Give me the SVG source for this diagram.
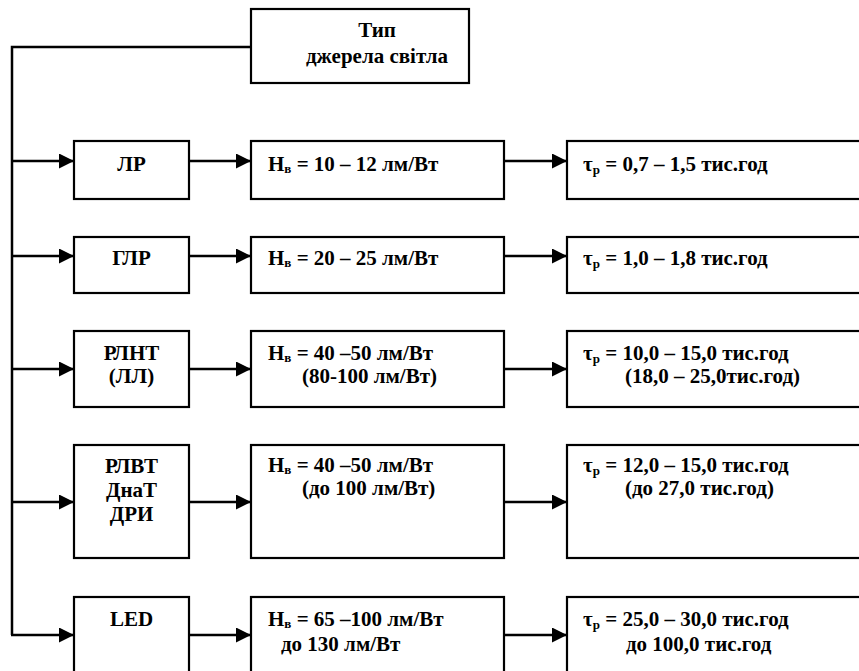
<svg xmlns="http://www.w3.org/2000/svg" width="859" height="671" viewBox="0 0 859 671">
<defs>
<marker id="arr" markerUnits="userSpaceOnUse" markerWidth="18" markerHeight="18" refX="15" refY="7.5" orient="auto">
<path d="M0,0 L15,7.5 L0,15 z" fill="#000"/>
</marker>
<style>
.box{fill:#fff;stroke:#000;stroke-width:2.2}
.c{text-anchor:middle}
.sub{font-size:13px}
.ln{fill:none;stroke:#000;stroke-width:2.5}
</style>
</defs>
<rect width="859" height="671" fill="#fff"/>
<g id="connectors">
<polyline class="ln" points="251,47 12,47 12,635"/>
<line class="ln" x1="12" y1="161" x2="74" y2="161" marker-end="url(#arr)"/>
<line class="ln" x1="12" y1="256" x2="74" y2="256" marker-end="url(#arr)"/>
<line class="ln" x1="12" y1="369" x2="74" y2="369" marker-end="url(#arr)"/>
<line class="ln" x1="12" y1="502" x2="74" y2="502" marker-end="url(#arr)"/>
<line class="ln" x1="11" y1="635" x2="74" y2="635" marker-end="url(#arr)"/>
<line class="ln" x1="189" y1="161" x2="251" y2="161" marker-end="url(#arr)"/>
<line class="ln" x1="189" y1="256" x2="251" y2="256" marker-end="url(#arr)"/>
<line class="ln" x1="189" y1="369" x2="251" y2="369" marker-end="url(#arr)"/>
<line class="ln" x1="189" y1="502" x2="251" y2="502" marker-end="url(#arr)"/>
<line class="ln" x1="189" y1="635" x2="251" y2="635" marker-end="url(#arr)"/>
<line class="ln" x1="504" y1="161" x2="567" y2="161" marker-end="url(#arr)"/>
<line class="ln" x1="504" y1="256" x2="567" y2="256" marker-end="url(#arr)"/>
<line class="ln" x1="504" y1="369" x2="567" y2="369" marker-end="url(#arr)"/>
<line class="ln" x1="504" y1="502" x2="567" y2="502" marker-end="url(#arr)"/>
<line class="ln" x1="504" y1="635" x2="567" y2="635" marker-end="url(#arr)"/>
</g>
<g font-family="Liberation Serif, serif" font-weight="bold" font-size="21" fill="#000">
<g id="root">
<rect class="box" x="251" y="9" width="218" height="74"/>
<text class="c" x="377" y="37">Тип</text>
<text class="c" x="377" y="63">джерела світла</text>
</g>
<g id="lr">
<rect class="box" x="74" y="141" width="115" height="58"/>
<text class="c" x="131.5" y="171">ЛР</text>
</g>
<g id="lr-eff">
<rect class="box" x="251" y="141" width="253" height="58"/>
<text x="268" y="171">Н<tspan class="sub" dy="2">в</tspan><tspan dy="-2"> = 10 – 12 лм/Вт</tspan></text>
</g>
<g id="lr-life">
<rect class="box" x="567" y="141" width="296" height="58"/>
<text x="583" y="171">τ<tspan class="sub" dy="3">р</tspan><tspan dy="-3"> = 0,7 – 1,5 тис.год</tspan></text>
</g>
<g id="glr">
<rect class="box" x="74" y="237" width="115" height="56"/>
<text class="c" x="131.5" y="265">ГЛР</text>
</g>
<g id="glr-eff">
<rect class="box" x="251" y="237" width="253" height="56"/>
<text x="268" y="265">Н<tspan class="sub" dy="2">в</tspan><tspan dy="-2"> = 20 – 25 лм/Вт</tspan></text>
</g>
<g id="glr-life">
<rect class="box" x="567" y="237" width="296" height="56"/>
<text x="583" y="265">τ<tspan class="sub" dy="3">р</tspan><tspan dy="-3"> = 1,0 – 1,8 тис.год</tspan></text>
</g>
<g id="rlnt">
<rect class="box" x="74" y="331" width="115" height="76"/>
<text class="c" x="131.5" y="360">РЛНТ</text>
<text class="c" x="131.5" y="383">(ЛЛ)</text>
</g>
<g id="rlnt-eff">
<rect class="box" x="251" y="331" width="253" height="76"/>
<text x="268" y="360">Н<tspan class="sub" dy="2">в</tspan><tspan dy="-2"> = 40 –50 лм/Вт</tspan></text>
<text x="302" y="383">(80-100 лм/Вт)</text>
</g>
<g id="rlnt-life">
<rect class="box" x="567" y="331" width="296" height="76"/>
<text x="583" y="360">τ<tspan class="sub" dy="3">р</tspan><tspan dy="-3"> = 10,0 – 15,0 тис.год</tspan></text>
<text x="625" y="383">(18,0 – 25,0тис.год)</text>
</g>
<g id="rlvt">
<rect class="box" x="74" y="445" width="115" height="113"/>
<text class="c" x="131.5" y="473">РЛВТ</text>
<text class="c" x="131.5" y="497">ДнаТ</text>
<text class="c" x="131.5" y="521">ДРИ</text>
</g>
<g id="rlvt-eff">
<rect class="box" x="251" y="445" width="253" height="113"/>
<text x="268" y="472">Н<tspan class="sub" dy="2">в</tspan><tspan dy="-2"> = 40 –50 лм/Вт</tspan></text>
<text x="302" y="495">(до 100 лм/Вт)</text>
</g>
<g id="rlvt-life">
<rect class="box" x="567" y="445" width="296" height="113"/>
<text x="583" y="472">τ<tspan class="sub" dy="3">р</tspan><tspan dy="-3"> = 12,0 – 15,0 тис.год</tspan></text>
<text x="625" y="495">(до 27,0 тис.год)</text>
</g>
<g id="led">
<rect class="box" x="74" y="597" width="115" height="80"/>
<text class="c" x="131.5" y="626">LED</text>
</g>
<g id="led-eff">
<rect class="box" x="251" y="597" width="253" height="80"/>
<text x="268" y="626">Н<tspan class="sub" dy="2">в</tspan><tspan dy="-2"> = 65 –100 лм/Вт</tspan></text>
<text x="281" y="651">до 130 лм/Вт</text>
</g>
<g id="led-life">
<rect class="box" x="567" y="597" width="296" height="80"/>
<text x="583" y="626">τ<tspan class="sub" dy="3">р</tspan><tspan dy="-3"> = 25,0 – 30,0 тис.год</tspan></text>
<text x="626" y="651">до 100,0 тис.год</text>
</g>
</g>
</svg>
